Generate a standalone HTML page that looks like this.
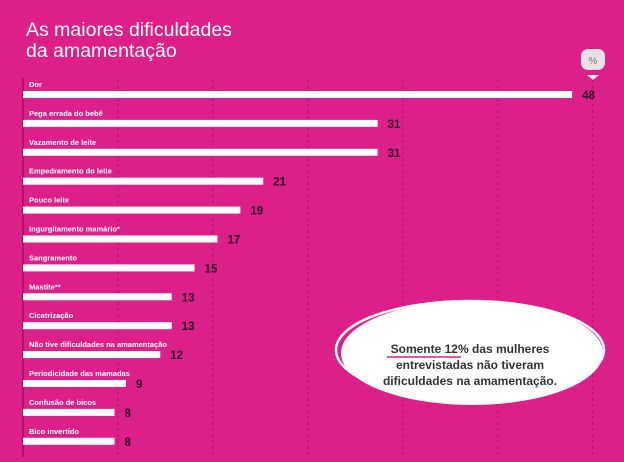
<!DOCTYPE html>
<html><head><meta charset="utf-8"><style>
body{margin:0;width:624px;height:457px;overflow:hidden;background:#dd1f8a;font-family:"Liberation Sans",sans-serif}
</style></head><body>
<svg width="624" height="457" id="c">
<rect width="624" height="457" fill="#dd1f8a"/>
<text x="26" y="36" fill="#fff" font-size="19.5">As maiores dificuldades</text>
<text x="26" y="57" fill="#fff" font-size="19.5">da amamentação</text>
<g>
<rect x="581" y="49" width="24" height="21" rx="7" fill="#e8e2e6"/>
<text x="593" y="64" font-size="10" fill="#777" text-anchor="middle">%</text>
<polygon points="587,75 599,75 593,80" fill="#eee"/>
</g>
<g id="grid"></g>
<line x1="23" y1="78" x2="23" y2="457" stroke="#7a0a45" stroke-width="1"/>
<g id="bars"></g>
<g>
<ellipse cx="472" cy="353" rx="131" ry="52" fill="#fff"/>
<ellipse cx="470" cy="350" rx="134" ry="49" fill="none" stroke="#fff" stroke-width="2.5"/>
<text x="470" y="353" font-size="12" font-weight="bold" fill="#333" text-anchor="middle">Somente 12% das mulheres</text>
<line x1="387" y1="357" x2="461" y2="357" stroke="#dd1f8a" stroke-width="1.5"/>
<text x="470" y="369" font-size="12" font-weight="bold" fill="#333" text-anchor="middle">entrevistadas não tiveram</text>
<text x="470" y="385" font-size="12" font-weight="bold" fill="#333" text-anchor="middle">dificuldades na amamentação.</text>
</g>
</svg>
<script>
const categories=["Dor","Pega errada do bebê","Vazamento de leite","Empedramento do leite","Pouco leite","Ingurgitamento mamário*","Sangramento","Mastite**","Cicatrização","Não tive dificuldades na amamentação","Periodicidade das mamadas","Confusão de bicos","Bico invertido"];
const values=[48,31,31,21,19,17,15,13,13,12,9,8,8];
const gridTicks=[8.3,16.6,24.9,33.2,41.5,49.8];
const ns="http://www.w3.org/2000/svg";
const x0=23, k=11.44, y0=91, pitch=28.9;
function xs(v){return x0+v*k;}
function mk(t,a,p){const e=document.createElementNS(ns,t);for(const n in a)e.setAttribute(n,a[n]);p.appendChild(e);return e;}
const G=document.getElementById('grid'), B=document.getElementById('bars');
gridTicks.forEach(t=>{
 const l=mk('line',{x1:xs(t),x2:xs(t),y1:80,y2:457,stroke:'#b0156a','stroke-dasharray':'3,3','stroke-width':1},G);
 
 
});
categories.forEach((c,i)=>{
 const y=y0+i*pitch;
 const lb=mk('text',{x:29,y:y-4,'font-size':7.5,'font-weight':'bold',fill:'#fff'},B);lb.textContent=c;
 
 
 const r=mk('rect',{x:x0,y:y,width:xs(values[i])-x0,height:7,fill:'#fff'},B);
 
 
 const v=mk('text',{x:xs(values[i])+10,y:y+8,'font-size':11.5,'font-weight':'bold',fill:'#2a1020'},B);v.textContent=values[i];
 
 
});
</script>
</body></html>
